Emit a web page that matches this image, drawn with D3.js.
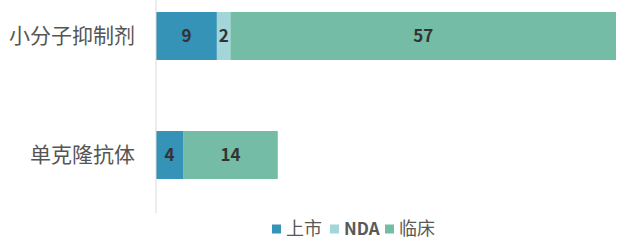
<!DOCTYPE html>
<html>
<head>
<meta charset="utf-8">
<script src="https://cdn.jsdelivr.net/npm/d3@7"></script>
<style>
  body { margin: 0; background: #fff; }
  text { font-family: "Noto Sans CJK SC", "Noto Sans", sans-serif; }
</style>
</head>
<body>
<div id="chart"></div>
<script>
var categories = ['小分子抑制剂', '单克隆抗体'];
var seriesNames = ['上市', 'NDA', '临床'];
var seriesColors = ['#3493b7', '#a2d6d8', '#74bca6'];
var listed = [9, 4];
var nda = [2, 0];
var clinical = [57, 14];

var widthCont = 626, heightCont = 242;
var margin = {top: 0, right: 10, bottom: 29, left: 156};

var rows = categories.map(function(c, i) {
  return {cat: c, '上市': listed[i], 'NDA': nda[i], '临床': clinical[i]};
});
var stacked = d3.stack().keys(seriesNames)(rows);

var svg = d3.select('#chart').append('svg')
    .attr('width', widthCont)
    .attr('height', heightCont);

var g = svg.append('g').attr('transform', 'translate(' + margin.left + ',' + margin.top + ')');

var x = d3.scaleLinear().domain([0, 68]).range([0, 460]);
var y = d3.scaleBand().domain(categories).range([0, 191]).paddingInner(0.597).paddingOuter(0.101);

var layers = g.selectAll('.layer').data(stacked).enter().append('g')
    .attr('fill', function(d, i) { return seriesColors[i]; });

layers.selectAll('rect').data(function(d) { return d; })
  .enter().append('rect')
    .attr('x', function(d) { return x(d[0]); })
    .attr('y', function(d) { return y(d.data.cat); })
    .attr('width', function(d) { return x(d[1]) - x(d[0]); })
    .attr('height', y.bandwidth());

layers.selectAll('text').data(function(d) { return d.filter(function(v) { return v[1] - v[0] > 0; }); })
  .enter().append('text')
    .attr('x', function(d) { return (x(d[0]) + x(d[1])) / 2; })
    .attr('y', function(d) { return y(d.data.cat) + y.bandwidth() / 2; })
    .attr('dy', '0.36em')
    .attr('text-anchor', 'middle')
    .attr('fill', '#333')
    .attr('font-weight', 'bold')
    .attr('font-size', '17px')
    .text(function(d) { return d[1] - d[0]; });

// category axis
var yAxis = g.append('g').call(d3.axisLeft(y).tickSize(0).tickPadding(21));
yAxis.select('.domain').attr('stroke', '#d9d9d9').attr('d', 'M0,0V213');
yAxis.selectAll('text').attr('font-size', '21px').attr('fill', '#555');

// legend
var legend = svg.append('g').attr('transform', 'translate(272,229)');
var offsets = [0, 58, 113];
seriesNames.forEach(function(s, i) {
  var lg = legend.append('g').attr('transform', 'translate(' + offsets[i] + ',0)');
  lg.append('rect').attr('x', 0).attr('y', -4.5).attr('width', 9).attr('height', 9).attr('fill', seriesColors[i]);
  lg.append('text').attr('x', 14).attr('dy', '0.36em')
    .attr('font-size', s === 'NDA' ? '17px' : '18px')
    .attr('font-weight', s === 'NDA' ? 'bold' : 'normal')
    .attr('fill', '#595959')
    .text(s);
});
</script>
</body>
</html>
